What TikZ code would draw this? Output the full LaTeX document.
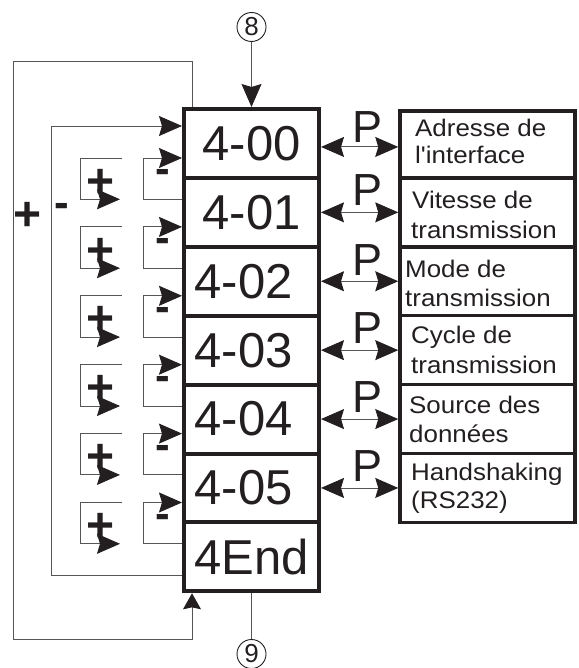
\documentclass[tikz,border=0pt]{standalone}
\usepackage{fontspec}
\setmainfont{Liberation Sans}
\newfontfamily\rfont[FakeStretch=1.08]{Liberation Sans}
\usetikzlibrary{arrows.meta,calc}
\definecolor{ink}{HTML}{231F20}
\definecolor{wire}{HTML}{555555}
\begin{document}
\begin{tikzpicture}[x=1pt,y=-1pt,
  mainbox/.style={draw=ink,line width=4pt,minimum width=135pt,minimum height=68.9pt,inner sep=0pt,font=\fontsize{49}{49}\selectfont,text=ink},
  sidebox/.style={draw=ink,line width=3.5pt,minimum width=175pt,inner sep=0pt},
  sidetext/.style={anchor=base west,inner sep=0pt,font=\rfont\fontsize{24}{30}\selectfont,text=ink},
  bigtip/.tip={Stealth[length=23pt,width=20pt,inset=3pt,color=ink]},
  smalltip/.tip={Stealth[length=16pt,width=18pt,inset=2pt,color=ink]},
  wire/.style={draw=wire,line width=0.9pt},
  plab/.style={anchor=base,inner sep=0pt,font=\fontsize{45}{45}\selectfont,text=ink},
  plusl/.style={anchor=base,inner sep=0pt,font=\bfseries\fontsize{48}{48}\selectfont,text=ink},
  minusl/.style={anchor=base,inner sep=0pt,font=\bfseries\fontsize{44}{44}\selectfont,text=ink},
  circnode/.style={circle,draw=ink,line width=0.9pt,minimum size=29pt,inner sep=0pt,font=\fontsize{26}{26}\selectfont,text=ink}
]
\useasboundingbox (0,0) rectangle (578,668);

% main column
\node[mainbox] (b0) at (251.5,143.45) {4-00};
\node[mainbox] (b1) at (251.5,212.35) {4-01};
\node[mainbox] (b2) at (251.5,281.25) {\kern-16pt 4-02};
\node[mainbox] (b3) at (251.5,350.15) {\kern-16pt 4-03};
\node[mainbox] (b4) at (251.5,419.05) {\kern-16pt 4-04};
\node[mainbox] (b5) at (251.5,487.95) {\kern-16pt 4-05};
\node[mainbox] (b6) at (251.5,556.85) {4End};

% side boxes
\node[sidebox,minimum height=66.9pt] (r0) at (487.5,144.45) {};
\node[sidebox,minimum height=68.9pt] (r1) at (487.5,212.35) {};
\node[sidebox,minimum height=68.9pt] (r2) at (487.5,281.25) {};
\node[sidebox,minimum height=68.9pt] (r3) at (487.5,350.15) {};
\node[sidebox,minimum height=68.9pt] (r4) at (487.5,419.05) {};
\node[sidebox,minimum height=68.9pt] (r5) at (487.5,487.95) {};

\node[sidetext] (t0a) at (415,137) {Adresse de};
\node[sidetext] (t0b) at (415,164) {l'interface};
\node[sidetext] (t1a) at (412,208) {Vitesse de};
\node[sidetext] (t1b) at (411,238) {transmission};
\node[sidetext] (t2a) at (405,277) {Mode de};
\node[sidetext] (t2b) at (405,306) {transmission};
\node[sidetext] (t3a) at (411,343) {Cycle de};
\node[sidetext] (t3b) at (411,373) {transmission};
\node[sidetext] (t4a) at (409,413) {Source des};
\node[sidetext] (t4b) at (409,442) {données};
\node[sidetext] (t5a) at (411,480) {Handshaking};
\node[sidetext] (t5b) at (411,508) {(RS232)};

% P arrows
\draw[wire,bigtip-bigtip] ($(b0.east)+(0,3.5)$) -- ($(b0.east -| r0.west)+(0,3.5)$);
\node[plab] (p0) at (368,143) {P};
\foreach \i/\py in {1/206,2/275,3/343,4/412,5/481}{
  \draw[wire,bigtip-bigtip] (b\i.east) -- (b\i.east -| r\i.west);
  \node[plab] (p\i) at (368,\py) {P};
}

% circled markers
\node[circnode] (c8) at (251.5,27) {8};
\node[circnode] (c9) at (251.5,654) {9};
\draw[wire,-bigtip] (c8.south) -- (b0.north);
\draw[wire] (b6.south) -- (c9.north);

% small loops
\foreach \i in {0,...,5}{
  \pgfmathtruncatemacro\j{\i+1}
  \draw[wire,-bigtip] ($(b\j.west)+(0,-13.05)$) -- ++(-39,0) |- ($(b\i.west)+(0,14.55)$);
  \coordinate (ps\i) at ($(b\i.west)+(-60,14.55)$);
  \coordinate (pe\i) at ($(b\j.west)+(-62,-13.05)$);
  \draw[wire,-bigtip] (ps\i) -- ++(-42,0) |- (pe\i);
  \node[plusl] (plus\i) at (101,197.1+68.9*\i) {+};
  \node[minusl] (minus\i) at (163,184+68.9*\i) {-};
}

% big minus loop
\draw[wire,-bigtip] ($(b6.west)+(0,18.15)$) -- ++(-131,0) |- ($(b0.west)+(0,-17.45)$);
\node[minusl] (bigminus) at (62,218) {-};

% big plus loop
\draw[wire,-smalltip] ($(b0.north west)+(10,0)$) -- ++(0,-46) -- ++(-179,0) -- ++(0,578) -| ($(b6.south west)+(10,0)$);
\node[plusl] (bigplus) at (27.5,230) {+};
\end{tikzpicture}
\end{document}
